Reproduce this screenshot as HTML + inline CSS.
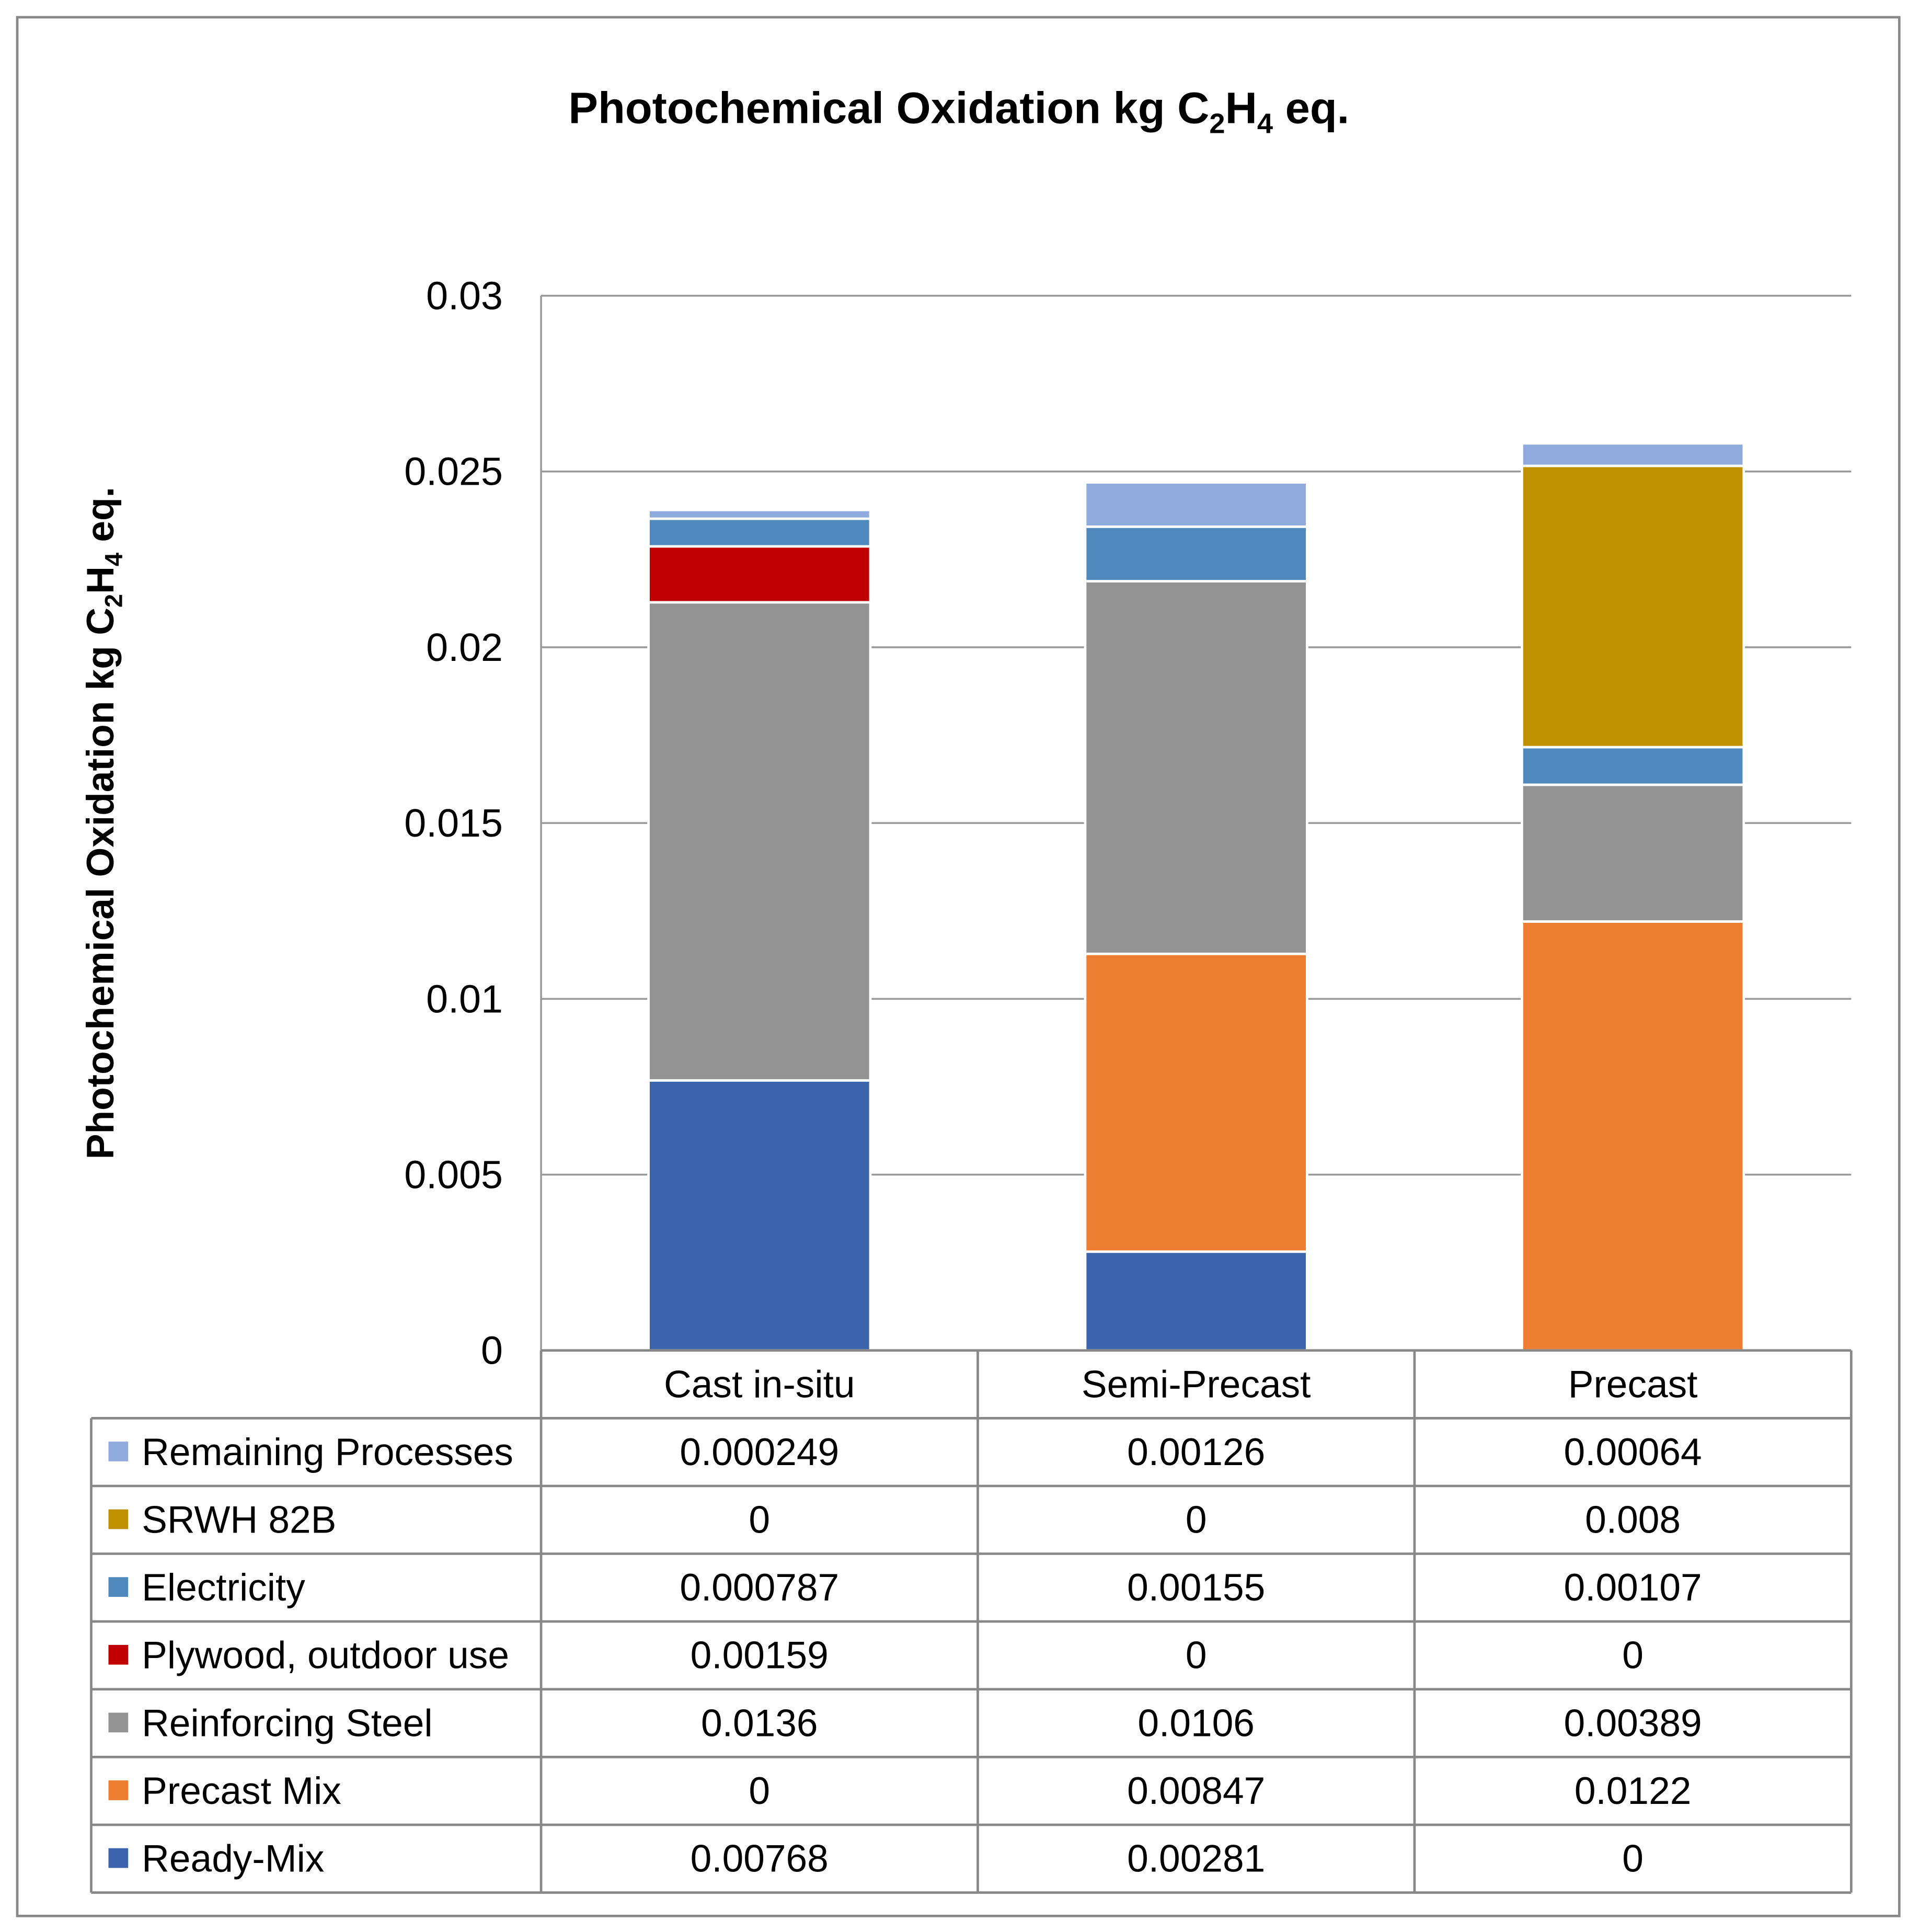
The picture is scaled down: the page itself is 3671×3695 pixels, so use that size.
<!DOCTYPE html>
<html><head><meta charset="utf-8"><style>
html,body{margin:0;padding:0;background:#fff}
svg{display:block}
text{font-family:"Liberation Sans",sans-serif}
</style></head><body>
<svg id="chart" width="3671" height="3695" viewBox="0 0 1557 1568" preserveAspectRatio="none" xmlns="http://www.w3.org/2000/svg">
<rect x="14" y="14" width="1527" height="1541" fill="#fff" stroke="#888" stroke-width="2"/>
<text x="778" y="100" text-anchor="middle" font-size="36" font-weight="bold">Photochemical Oxidation  kg C<tspan font-size="23" dy="8">2</tspan><tspan dy="-8">H</tspan><tspan font-size="23" dy="8">4</tspan><tspan dy="-8"> eq.</tspan></text>
<text transform="translate(92,668) rotate(-90)" text-anchor="middle" font-size="31" font-weight="bold">Photochemical Oxidation  kg C<tspan font-size="20" dy="7">2</tspan><tspan dy="-7">H</tspan><tspan font-size="20" dy="7">4</tspan><tspan dy="-7"> eq.</tspan></text>
<g id="grid"></g><g id="bars"></g><g id="table"></g>
</svg>
<script>
const categories=["Cast in-situ","Semi-Precast","Precast"];
const seriesNames=["Ready-Mix","Precast Mix","Reinforcing Steel","Plywood, outdoor use","Electricity","SRWH 82B","Remaining Processes"];
const seriesColors=["#3c64ad","#ed7d31","#939393","#c00000","#4f89bd","#bf9000","#8faadc"];
const readyMix=[0.00768,0.00281,0];
const precastMix=[0,0.00847,0.0122];
const reinforcingSteel=[0.0136,0.0106,0.00389];
const plywood=[0.00159,0,0];
const electricity=[0.000787,0.00155,0.00107];
const srwh=[0,0,0.008];
const remaining=[0.000249,0.00126,0.00064];
const valueLabels=[["0.00768","0.00281","0"],["0","0.00847","0.0122"],["0.0136","0.0106","0.00389"],["0.00159","0","0"],["0.000787","0.00155","0.00107"],["0","0","0.008"],["0.000249","0.00126","0.00064"]];
const yTicks=[0,0.005,0.01,0.015,0.02,0.025,0.03];
const yTickLabels=["0","0.005","0.01","0.015","0.02","0.025","0.03"];
const series=[readyMix,precastMix,reinforcingSteel,plywood,electricity,srwh,remaining];
const NS="http://www.w3.org/2000/svg";
const X0=439,X1=1502,Y0=1096,Y1=240,YMAX=0.03,colW=(X1-X0)/3,barW=180,rowH=55,legX=74;
const y=v=>Y0-(v/YMAX)*(Y0-Y1);
const xc=i=>X0+colW*(i+0.5);
function mk(tag,attrs,parent){const e=document.createElementNS(NS,tag);for(const k in attrs)e.setAttribute(k,attrs[k]);parent.appendChild(e);return e;}
const grid=document.getElementById('grid'),bars=document.getElementById('bars'),table=document.getElementById('table');
yTicks.forEach((t,i)=>{
  if(i>0){const l=mk('line',{x1:X0,x2:X1,y1:y(t),y2:y(t),stroke:'#999','stroke-width':1.5},grid);
  
  }
  const tx=mk('text',{x:408,y:y(t)+11,'text-anchor':'end','font-size':32},grid);
  tx.textContent=yTickLabels[i];
  
  
});
const ax=mk('line',{x1:X0,x2:X0,y1:Y1,y2:Y0,stroke:'#999','stroke-width':1.5},grid);


categories.forEach((c,ci)=>{
  let acc=0;
  series.forEach((s,si)=>{
    const v=s[ci];if(v<=0)return;
    const r=mk('rect',{x:xc(ci)-barW/2,y:y(acc+v),width:barW,height:y(acc)-y(acc+v),fill:seriesColors[si],stroke:'#fff','stroke-width':2},bars);
    
    
    acc+=v;
  });
});
const nRows=seriesNames.length;
const tTop=Y0+rowH;
const lineAttrs={stroke:'#888','stroke-width':2};
for(let i=0;i<=3;i++){const l=mk('line',Object.assign({x1:X0+colW*i,x2:X0+colW*i,y1:Y0,y2:tTop+nRows*rowH},lineAttrs),table);

}
const ll=mk('line',Object.assign({x1:legX,x2:legX,y1:tTop,y2:tTop+nRows*rowH},lineAttrs),table);


const tl=mk('line',Object.assign({x1:X0,x2:X1,y1:Y0,y2:Y0},lineAttrs),table);


for(let r=0;r<=nRows;r++){const l=mk('line',Object.assign({x1:legX,x2:X1,y1:tTop+r*rowH,y2:tTop+r*rowH},lineAttrs),table);

}
categories.forEach((c,ci)=>{const t=mk('text',{x:xc(ci),y:Y0+38,'text-anchor':'middle','font-size':31},table);t.textContent=c;

});
for(let r=0;r<nRows;r++){
  const si=nRows-1-r;const ry=tTop+r*rowH;
  const sw=mk('rect',{x:88,y:ry+19,width:16,height:16,fill:seriesColors[si]},table);
  
  
  const t=mk('text',{x:115,y:ry+38,'font-size':31},table);t.textContent=seriesNames[si];
  
  
  for(let ci=0;ci<3;ci++){const v=mk('text',{x:xc(ci),y:ry+38,'text-anchor':'middle','font-size':31},table);v.textContent=valueLabels[si][ci];
  
  }
}
</script>
</body></html>
